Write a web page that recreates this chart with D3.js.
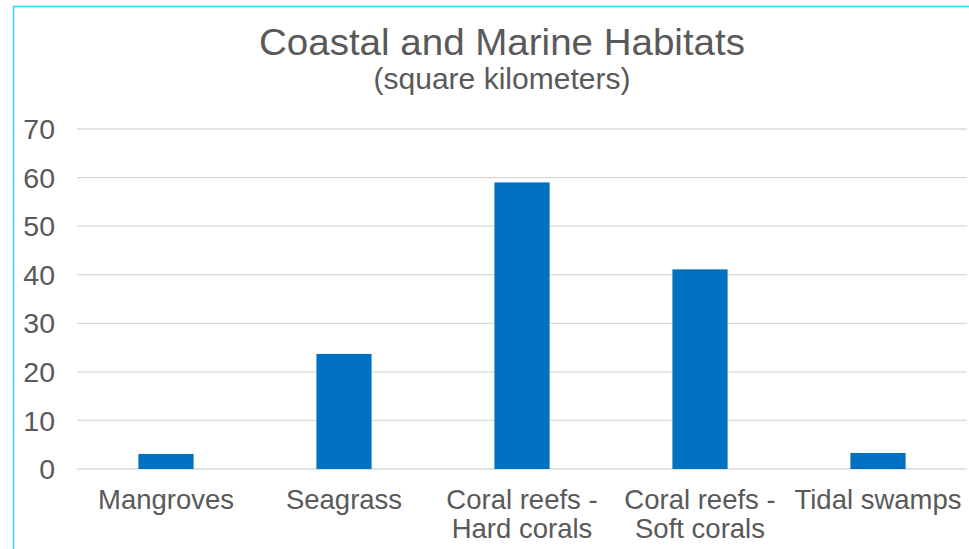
<!DOCTYPE html>
<html>
<head>
<meta charset="utf-8">
<script src="https://cdn.jsdelivr.net/npm/d3@7.9.0/dist/d3.min.js"></script>
<style>
  body { margin: 0; background: #fff; }
  svg { display: block; font-family: "Liberation Sans", Arial, sans-serif; }
</style>
</head>
<body>
<svg width="969" height="549"></svg>
<script>
// Chart data
const categories = [
  ["Mangroves"],
  ["Seagrass"],
  ["Coral reefs -", "Hard corals"],
  ["Coral reefs -", "Soft corals"],
  ["Tidal swamps"]
];
const values = [3.1, 23.7, 59, 41.1, 3.3];
const yTicks = [0, 10, 20, 30, 40, 50, 60, 70];

const svg = d3.select('svg');
const textColor = '#595959';

// Plot area
const plotLeft = 77, plotRight = 967, plotTop = 129, plotBottom = 469;

const x = d3.scaleBand()
  .domain(d3.range(categories.length))
  .range([plotLeft, plotRight])
  .padding(0);
const y = d3.scaleLinear().domain([0, 70]).range([plotBottom, plotTop]);

// Frame edges (top and left)
svg.append('line')
  .attr('x1', 13).attr('x2', 969).attr('y1', 6.5).attr('y2', 6.5)
  .attr('stroke', '#3ccafa').attr('stroke-width', 1.5);
svg.append('line')
  .attr('x1', 13.5).attr('x2', 13.5).attr('y1', 6).attr('y2', 549)
  .attr('stroke', '#3ccafa').attr('stroke-width', 1.5);

// Title (text in the original is drawn a bit wider than Arial)
svg.append('text')
  .attr('x', 502).attr('y', 55)
  .attr('text-anchor', 'middle')
  .attr('font-size', 37.5)
  .attr('textLength', 486)
  .attr('lengthAdjust', 'spacingAndGlyphs')
  .attr('fill', textColor)
  .text('Coastal and Marine Habitats');
svg.append('text')
  .attr('x', 502).attr('y', 89)
  .attr('text-anchor', 'middle')
  .attr('font-size', 29.5)
  .attr('textLength', 257)
  .attr('lengthAdjust', 'spacingAndGlyphs')
  .attr('fill', textColor)
  .text('(square kilometers)');

// Gridlines
svg.append('g')
  .selectAll('line')
  .data(yTicks)
  .join('line')
  .attr('x1', plotLeft).attr('x2', plotRight)
  .attr('y1', d => y(d)).attr('y2', d => y(d))
  .attr('stroke', '#d9d9d9').attr('stroke-width', 1.3);

// Y axis labels
const yAxis = d3.axisLeft(y).tickValues(yTicks).tickSize(0).tickPadding(0);
const yg = svg.append('g')
  .attr('transform', `translate(55,0)`)
  .call(yAxis);
yg.select('.domain').remove();
yg.selectAll('text')
  .attr('font-size', 28.5)
  .attr('font-family', '"Liberation Sans", Arial, sans-serif')
  .attr('fill', textColor)
  .attr('dy', '0.34em');

// Bars
const barW = x.bandwidth() * 0.31;
svg.append('g')
  .selectAll('rect')
  .data(values)
  .join('rect')
  .attr('x', (d, i) => x(i) + x.bandwidth() / 2 - barW / 2)
  .attr('width', barW)
  .attr('y', d => y(d))
  .attr('height', d => y(0) - y(d))
  .attr('fill', '#0070c0');

// X labels
const xl = svg.append('g')
  .selectAll('text')
  .data(categories)
  .join('text')
  .attr('x', (d, i) => x(i) + x.bandwidth() / 2)
  .attr('y', 509)
  .attr('text-anchor', 'middle')
  .attr('font-size', 27.5)
  .attr('fill', textColor);
xl.selectAll('tspan')
  .data(d => d)
  .join('tspan')
  .attr('x', function() { return this.parentNode.getAttribute('x'); })
  .attr('dy', (d, i) => i === 0 ? 0 : 28.5)
  .text(d => d);
</script>
</body>
</html>
